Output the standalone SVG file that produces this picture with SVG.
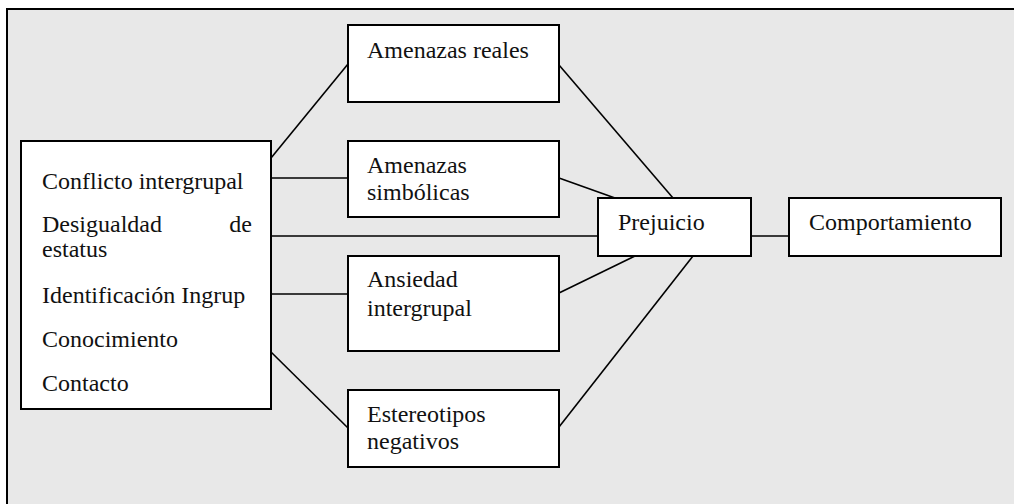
<svg xmlns="http://www.w3.org/2000/svg" width="1014" height="504" viewBox="0 0 1014 504">
  <style>
    .frame { fill: #e8e8e8; stroke: #000; stroke-width: 2; }
    .box { fill: #fff; stroke: #000; stroke-width: 2; }
    .link { stroke: #000; stroke-width: 1.6; fill: none; }
    text { font-family: "Liberation Serif", "Times New Roman", serif; font-size: 24px; fill: #111; }
  </style>

  <!-- background panel (right and bottom edges run past the page) -->
  <rect class="frame" x="7" y="9" width="1030" height="520"/>

  <!-- connectors -->
  <g id="connectors">
    <line class="link" x1="271" y1="158" x2="348" y2="64"/>
    <line class="link" x1="271" y1="178" x2="348" y2="178"/>
    <line class="link" x1="271" y1="236" x2="598" y2="236"/>
    <line class="link" x1="271" y1="294" x2="348" y2="294"/>
    <line class="link" x1="271" y1="352" x2="348" y2="428"/>
    <line class="link" x1="559" y1="65" x2="673" y2="198"/>
    <line class="link" x1="559" y1="178" x2="615" y2="198"/>
    <line class="link" x1="559" y1="293" x2="635" y2="256"/>
    <line class="link" x1="559" y1="427" x2="693" y2="256"/>
    <line class="link" x1="751" y1="236" x2="789" y2="236"/>
  </g>

  <g id="antecedentes">
    <rect class="box" x="21" y="141" width="250" height="268"/>
    <text x="42" y="189">Conflicto intergrupal</text>
    <text x="42" y="232">Desigualdad</text>
    <text x="252" y="232" text-anchor="end">de</text>
    <text x="42" y="257">estatus</text>
    <text x="42" y="303">Identificación Ingrup</text>
    <text x="42" y="347">Conocimiento</text>
    <text x="42" y="391">Contacto</text>
  </g>

  <g id="amenazas-reales">
    <rect class="box" x="348" y="25" width="211" height="77"/>
    <text x="367" y="58">Amenazas reales</text>
  </g>

  <g id="amenazas-simbolicas">
    <rect class="box" x="348" y="141" width="211" height="76"/>
    <text x="367" y="173">Amenazas</text>
    <text x="367" y="200">simbólicas</text>
  </g>

  <g id="ansiedad-intergrupal">
    <rect class="box" x="348" y="256" width="211" height="95"/>
    <text x="367" y="287">Ansiedad</text>
    <text x="367" y="316">intergrupal</text>
  </g>

  <g id="estereotipos-negativos">
    <rect class="box" x="348" y="390" width="211" height="77"/>
    <text x="367" y="422">Estereotipos</text>
    <text x="367" y="449">negativos</text>
  </g>

  <g id="prejuicio">
    <rect class="box" x="598" y="198" width="153" height="58"/>
    <text x="618" y="230">Prejuicio</text>
  </g>

  <g id="comportamiento">
    <rect class="box" x="789" y="198" width="212" height="58"/>
    <text x="809" y="230">Comportamiento</text>
  </g>
</svg>
